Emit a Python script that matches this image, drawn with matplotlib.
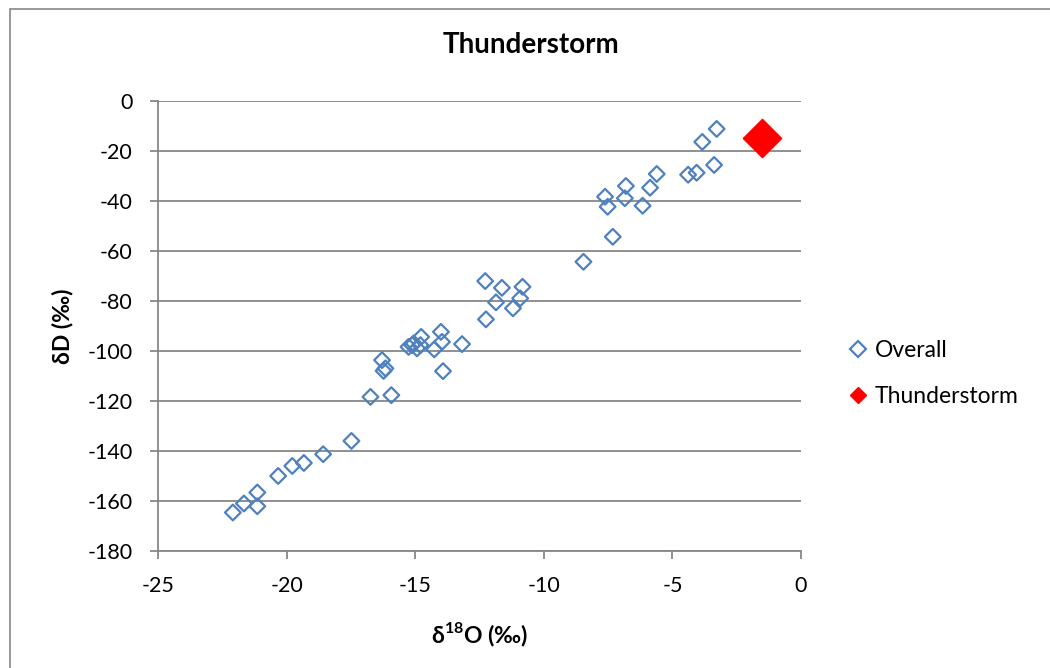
import numpy as np
import matplotlib
matplotlib.use("Agg")
import matplotlib.pyplot as plt
from matplotlib.lines import Line2D
from matplotlib.patches import Rectangle

plt.rcParams['font.family'] = ['Lato', 'DejaVu Sans']
plt.rcParams['mathtext.fontset'] = 'custom'
plt.rcParams['mathtext.rm'] = 'Lato'
plt.rcParams['mathtext.bf'] = 'Lato:bold'
plt.rcParams['axes.unicode_minus'] = False

# isotope values (per mil)
overall_d18o = [-3.28, -3.84, -3.38, -4.39, -4.06, -5.61, -5.87, -6.81, -6.85, -6.16,
                -7.62, -7.52, -7.32, -8.46, -12.28, -11.63, -10.83, -11.86, -10.92, -11.20,
                -12.25, -14.00, -14.77, -15.06, -15.26, -14.93, -15.12, -14.80, -14.26, -13.96,
                -13.18, -13.92, -16.29, -16.16, -16.23, -16.74, -15.93, -17.48, -18.58, -19.33,
                -19.78, -20.33, -21.14, -21.14, -21.66, -22.09]
overall_dD = [-11.3, -16.5, -25.7, -29.6, -28.8, -29.3, -34.8, -34.1, -39.0, -42.0,
              -38.4, -42.4, -54.4, -64.4, -72.1, -74.8, -74.4, -80.6, -79.0, -83.0,
              -87.4, -92.4, -94.4, -97.0, -98.4, -99.0, -97.7, -97.7, -99.4, -96.4,
              -97.3, -108.1, -103.7, -107.0, -108.0, -118.4, -117.7, -136.0, -141.3, -144.8,
              -146.0, -150.0, -156.6, -162.1, -161.0, -164.6]
storm_d18o = [-1.5]
storm_dD = [-15]

blue = '#4F81BD'
red = '#FF0000'
grey = '#878787'

fig = plt.figure(figsize=(10.5, 6.68), dpi=100)
# chart area border
fig.patches.append(Rectangle((10 / 1050, -0.1), 1.2, 1.1 - 9 / 668, transform=fig.transFigure,
                             fill=False, edgecolor=grey, linewidth=1.2))
ax = fig.add_axes([0.1505, 0.1751, 0.6124, 0.6742])

ax.scatter(overall_d18o, overall_dD, marker='D', s=64, facecolors='none',
           edgecolors=blue, linewidths=1.6, zorder=3)
ax.scatter(storm_d18o, storm_dD, marker='D', s=380, color=red, zorder=4)

ax.set_xlim(-25, 0)
ax.set_ylim(-180, 0)
ax.set_xticks(range(-25, 1, 5))
ax.set_yticks(range(-180, 1, 20))
ax.grid(axis='y', color=grey, linewidth=1.3)
ax.set_axisbelow(True)
for s in ['top', 'right']:
    ax.spines[s].set_visible(False)
for s in ['left', 'bottom']:
    ax.spines[s].set_color(grey)
    ax.spines[s].set_linewidth(1.3)
ax.tick_params(axis='both', direction='out', length=5.8, width=1.3, color=grey, labelsize=15.5)
ax.tick_params(axis='x', pad=12.5)
ax.tick_params(axis='y', pad=12.4)

ax.set_xlabel(r'δ$^{\mathbf{18}}$O (‰)', fontsize=16.5, fontweight='bold')
ax.set_ylabel('δD (‰)', fontsize=16.5, fontweight='bold')
ax.xaxis.set_label_coords(0.5, -0.155)
ax.yaxis.set_label_coords(-0.132, 0.5)

fig.text(0.506, 0.932, 'Thunderstorm', fontsize=20, fontweight='bold', ha='center', va='center')

handles = [Line2D([], [], marker='D', ls='none', ms=8.5, mfc='none', mec=blue, mew=1.6),
           Line2D([], [], marker='D', ls='none', ms=8.5, color=red)]
fig.legend(handles, ['Overall', 'Thunderstorm'], loc='center left',
           bbox_to_anchor=(0.80, 0.441), frameon=False, fontsize=16.5,
           handlelength=0.8, handletextpad=0.3, labelspacing=1.12, borderaxespad=0)

fig.savefig('out.png', dpi=100)
